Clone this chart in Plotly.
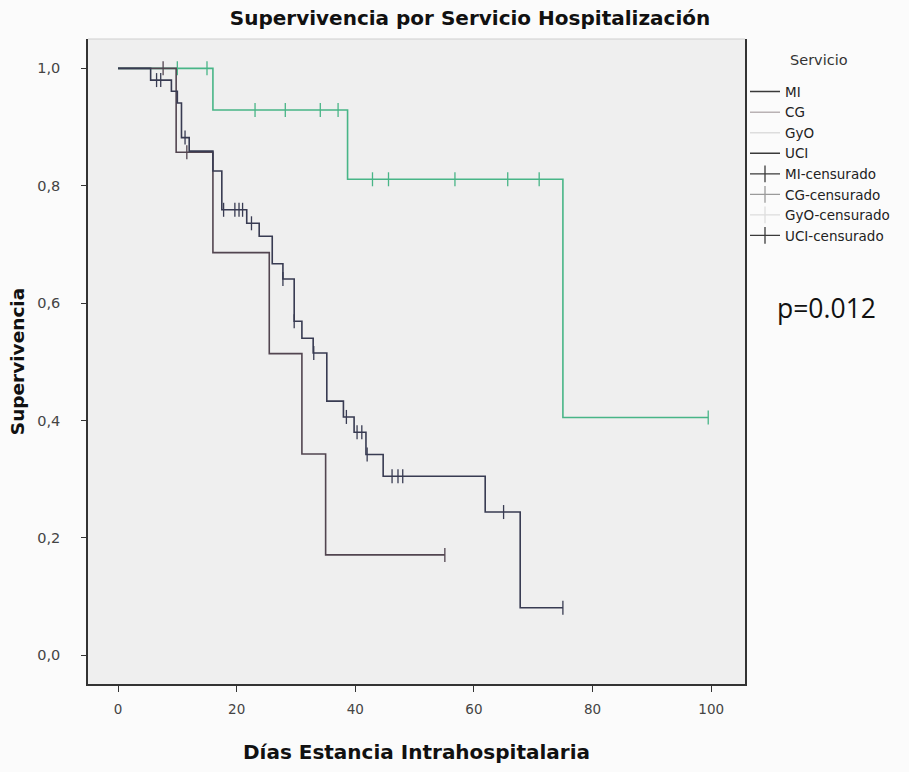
import plotly.graph_objects as go

# ---------------- data ----------------
# long dark curve
mi_t = [0, 5.5, 9, 10, 10.7, 12, 16, 17.5, 21.7, 23.8, 26, 27.8, 29.7, 31, 32.9,
        35.2, 38, 39.8, 41.8, 44.7, 61.9, 67.8, 75]
mi_s = [1.0, 0.980, 0.961, 0.941, 0.882, 0.859, 0.825, 0.759, 0.736, 0.714, 0.667,
        0.641, 0.569, 0.540, 0.515, 0.433, 0.406, 0.380, 0.342, 0.305, 0.244, 0.081, 0.081]
mi_cens_t = [6.5, 7.2, 11.3, 17.8, 19.7, 20.4, 21.0, 22.5, 27.8, 29.7, 33.0, 38.5,
             40.3, 41.1, 42.0, 46.2, 47.2, 48.0, 65.0, 75.0]

# short dark curve
uci_t = [0, 9.8, 16, 25.5, 31, 35, 55.1]
uci_s = [1.0, 0.857, 0.686, 0.514, 0.343, 0.171, 0.171]
uci_cens_t = [7.6, 11.6, 55.1]

# green curve
cg_t = [0, 16, 38.7, 75, 99.5]
cg_s = [1.0, 0.929, 0.811, 0.405, 0.405]
cg_cens_t = [10, 15, 23.1, 28.2, 34.1, 37.1, 42.9, 45.6, 56.8, 65.7, 71.0, 99.5]

legend_names = ["MI", "CG", "GyO", "UCI",
                "MI-censurado", "CG-censurado", "GyO-censurado", "UCI-censurado"]
legend_colors = ["#3a3a3a", "#b9b2b4", "#dddddd", "#3a3a3a",
                 "#3a3a3a", "#9a9a9a", "#dddddd", "#3a3a3a"]

y_tickvals = [0.0, 0.2, 0.4, 0.6, 0.8, 1.0]
y_ticktext = ["0,0", "0,2", "0,4", "0,6", "0,8", "1,0"]
x_tickvals = [0, 20, 40, 60, 80, 100]


def step_value(t, times, surv):
    v = surv[0]
    for ti, si in zip(times, surv):
        if ti <= t:
            v = si
    return v


fig = go.Figure()

curves = [
    (cg_t, cg_s, cg_cens_t, "#48b587"),
    (uci_t, uci_s, uci_cens_t, "#524550"),
    (mi_t, mi_s, mi_cens_t, "#383b52"),
]
for t, s, ct, col in curves:
    fig.add_trace(go.Scatter(x=t, y=s, mode="lines", line=dict(shape="hv", color=col, width=1.6),
                             showlegend=False, hoverinfo="skip"))
    fig.add_trace(go.Scatter(x=ct, y=[step_value(c, t, s) for c in ct], mode="markers",
                             marker=dict(symbol="line-ns-open", size=10, color=col,
                                         line=dict(color=col, width=1.3)),
                             showlegend=False, hoverinfo="skip"))

# legend entries
for i, (name, col) in enumerate(zip(legend_names, legend_colors)):
    if i < 4:
        fig.add_trace(go.Scatter(x=[None], y=[None], mode="lines", name=name,
                                 line=dict(color=col, width=1.5)))
    else:
        fig.add_trace(go.Scatter(x=[None], y=[None], mode="lines+markers", name=name,
                                 line=dict(color=col, width=1.2),
                                 marker=dict(symbol="line-ns-open", size=12, color=col,
                                             line=dict(color=col, width=1.3))))

# body margin is removed in the page, so layout px == page px
W, H = 909, 772
PL, PR, PT, PB = 88, 745, 39, 696
PW, PH = PR - PL, PB - PT
FONT = "DejaVu Sans, Liberation Sans, Arial, sans-serif"
fig.update_layout(
    width=W, height=H,
    margin=dict(l=PL, r=W - PR, t=PT, b=H - PB),
    paper_bgcolor="#fbfbfb",
    plot_bgcolor="#efefef",
    font=dict(family=FONT, color="#222"),
    title=dict(text="<b>Supervivencia por Servicio Hospitalización</b>",
               x=470 / W, xanchor="center", y=1 - 18 / H, yanchor="middle",
               font=dict(size=20, color="#111")),
    xaxis=dict(range=[-5.06, 105.7], tickvals=x_tickvals, showgrid=False, zeroline=False,
               showline=True, linecolor="#333", linewidth=1.5, ticks="outside", ticklen=6,
               tickcolor="#333", tickfont=dict(size=13.5, color="#444"), ticklabelstandoff=6,
               title=dict(text="<b>Días Estancia Intrahospitalaria</b>",
                          font=dict(size=20, color="#111"), standoff=29)),
    yaxis=dict(range=[-0.049, 1.05], tickvals=y_tickvals, ticktext=y_ticktext,
               showgrid=False, zeroline=False, showline=True, mirror=True,
               linecolor="#333", linewidth=1.5, ticks="outside", ticklen=5,
               tickcolor="#333", tickfont=dict(size=14.5, color="#444"), ticklabelstandoff=18,
               title=dict(text="<b>Supervivencia</b>", font=dict(size=18.5, color="#111"),
                          standoff=8)),
    legend=dict(x=1.0, xanchor="left", y=1 - (77 - PT) / PH, yanchor="top",
                bgcolor="rgba(0,0,0,0)", font=dict(size=13.5, color="#222"),
                itemwidth=30, tracegroupgap=0),
    showlegend=True,
)
fig.add_annotation(text="Servicio", x=(819 - PL) / PW, xref="paper", xanchor="center",
                   y=(PB - 60) / PH, yref="paper", yanchor="middle", showarrow=False,
                   font=dict(size=14.5, color="#333"))
fig.add_annotation(text="p=0.012", x=(826 - PL) / PW, xref="paper", xanchor="center",
                   y=(PB - 313) / PH, yref="paper", yanchor="middle", showarrow=False,
                   font=dict(family="Open Sans, sans-serif", size=26.5, color="#111"))
# faint top border of the plot frame
fig.add_shape(type="line", xref="paper", yref="paper", x0=0, x1=1, y0=1, y1=1,
              line=dict(color="#cfcfcf", width=1))

fig.write_html("out.html", post_script="document.body.style.margin='0';",
               config={"displayModeBar": False})
